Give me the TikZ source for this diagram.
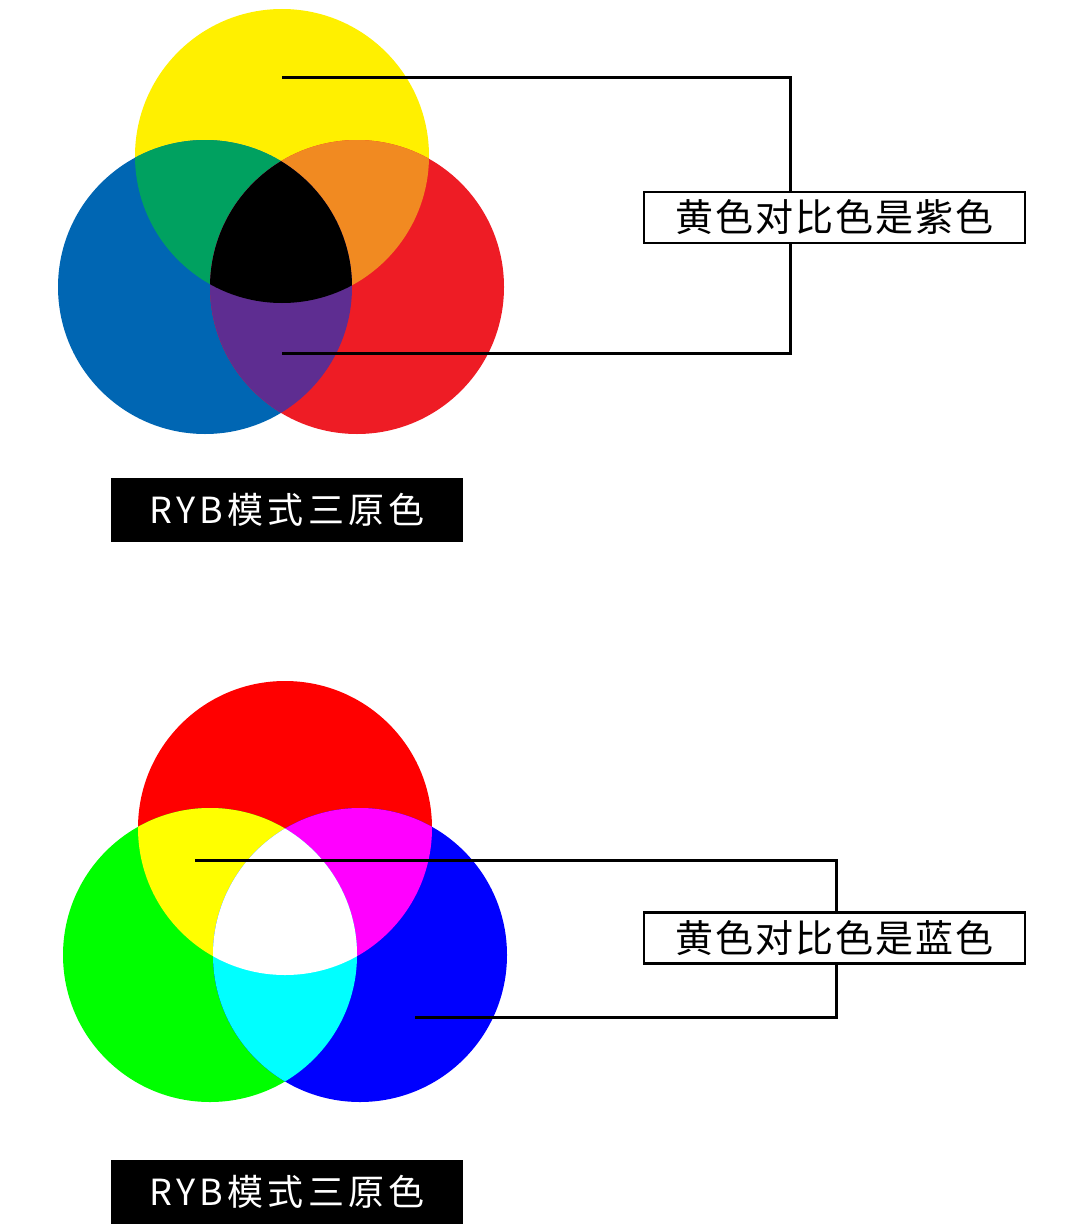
\documentclass[tikz,border=0pt]{standalone}
\usepackage{fontspec}
\setmainfont{Noto Sans CJK SC}
\newfontfamily\spaced[LetterSpace=12]{Noto Sans CJK SC}
\newfontfamily\spacedb[LetterSpace=5]{Noto Sans CJK SC}
\begin{document}
\begin{tikzpicture}[x=1pt,y=-1pt,
  lbl/.style={draw=black,line width=2.5pt,fill=white,minimum width=381pt,minimum height=51pt,font=\spacedb\fontsize{38}{42}\selectfont,inner sep=0pt},
  tag/.style={fill=black,text=white,minimum width=352pt,minimum height=64pt,font=\spaced\fontsize{36}{40}\selectfont,inner sep=0pt},
  ln/.style={line width=3pt,black}]
\useasboundingbox (0,0) rectangle (1080,1228);
\def\R{147}
\definecolor{cy}{HTML}{FFF000}\definecolor{cb}{HTML}{0066B3}\definecolor{cr}{HTML}{EE1C25}
\definecolor{cg}{HTML}{00A160}\definecolor{co}{HTML}{F18A21}\definecolor{cp}{HTML}{5E2D91}
\definecolor{ry}{RGB}{255,255,0}\definecolor{rm}{RGB}{255,0,255}\definecolor{rc}{RGB}{0,255,255}
\definecolor{rr}{RGB}{255,0,0}\definecolor{rg}{RGB}{0,255,0}\definecolor{rb}{RGB}{0,0,255}
\fill[cy] (282,156) circle (\R);
\fill[cb] (205,287) circle (\R);
\fill[cr] (357,287) circle (\R);
\begin{scope}\clip (282,156) circle (\R); \fill[cg] (205,287) circle (\R); \fill[co] (357,287) circle (\R);\end{scope}
\begin{scope}\clip (205,287) circle (\R); \fill[cp] (357,287) circle (\R);
  \clip (357,287) circle (\R); \fill[black] (282,156) circle (\R);\end{scope}
\coordinate (a1) at (282,78); \coordinate (a2) at (790,78);
\coordinate (a3) at (790,353); \coordinate (a4) at (282,353);
\draw[ln] (a1)--(a2)--(a3)--(a4);
\node[lbl] (b1) at (834.5,217.5) {黄色对比色是紫色};
\node[tag] (t1) at (287,510) {RYB模式三原色};
\fill[rr] (285,828) circle (\R);
\fill[rg] (210,955) circle (\R);
\fill[rb] (360,955) circle (\R);
\begin{scope}\clip (285,828) circle (\R); \fill[ry] (210,955) circle (\R); \fill[rm] (360,955) circle (\R);\end{scope}
\begin{scope}\clip (210,955) circle (\R); \fill[rc] (360,955) circle (\R);
  \clip (360,955) circle (\R); \fill[white] (285,828) circle (\R);\end{scope}
\coordinate (c1) at (195,860); \coordinate (c2) at (836,860);
\coordinate (c3) at (836,1017); \coordinate (c4) at (415,1017);
\draw[ln] (c1)--(c2)--(c3)--(c4);
\node[lbl] (b2) at (834.5,938) {黄色对比色是蓝色};
\node[tag] (t2) at (287,1192) {RYB模式三原色};
\end{tikzpicture}
\end{document}
